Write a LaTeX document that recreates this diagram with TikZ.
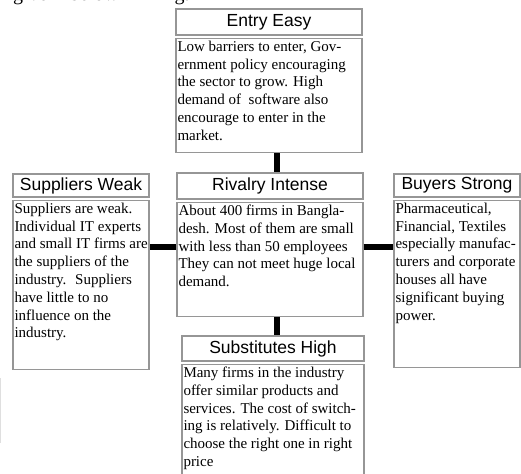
\documentclass[tikz,border=0pt]{standalone}
\usepackage{fontspec}
\setmainfont{Liberation Serif}
\setsansfont{Liberation Sans}
\usetikzlibrary{positioning}
\definecolor{frame}{RGB}{150,150,150}

\begin{document}
\begin{tikzpicture}[x=1pt, y=-1pt,
    head/.style={draw=frame, line width=1.4pt, inner sep=0pt, minimum height=25pt,
                 font=\sffamily\fontsize{17.5}{20}\selectfont},
    body/.style={draw=frame, line width=1.4pt, inner sep=0pt},
    txt/.style={anchor=north west, inner xsep=2pt, inner ysep=3pt, align=left,
                font=\fontsize{15}{17.8}\selectfont},
    link/.style={draw=black, line width=5.5pt}]
  \useasboundingbox (0,0) rectangle (521,473);
  % running text of the page, cut at the top
  \node[anchor=base west, inner sep=0pt, font=\fontsize{20}{22}\selectfont] (cap) at (13,1)
    {\makebox[214pt][s]{given below in Fig. 2}};
  \draw[gray!25, line width=1pt] (0.5,378) -- (0.5,443);

  % centre column
  \node[head, minimum width=186pt, minimum height=26pt] (eh) at (269,22) {Entry Easy};
  \node[body, minimum width=186pt, minimum height=114pt, below=2pt of eh] (eb) {};
  \node[txt] (et) at (eb.north west) {Low barriers to enter, Gov-\\ernment policy encouraging\\the sector to grow. High\\demand of \ software also\\encourage to enter in the\\market.};

  \node[head, minimum width=186pt, minimum height=26pt] (rh) at (270,186) {Rivalry Intense};
  \node[body, minimum width=186pt, minimum height=114pt, below=2pt of rh] (rb) {};
  \node[txt] (rt) at (rb.north west) {About 400 firms in Bangla-\\desh. Most of them are small\\with less than 50 employees\\They can not meet huge local\\demand.};

  \node[head, minimum width=182pt] (sh) at (273,348.5) {Substitutes High};
  \node[body, minimum width=182pt, minimum height=127pt, below=2pt of sh] (ub) {};
  \node[txt] (ut) at (ub.north west) {Many firms in the industry\\offer similar products and\\services. The cost of switch-\\ing is relatively. Difficult to\\choose the right one in right\\price};

  % side boxes
  \node[head, minimum width=136pt, minimum height=23pt] (ph) at (81,185.5) {Suppliers Weak};
  \node[body, minimum width=136pt, minimum height=169pt, below=2pt of ph] (pb) {};
  \node[txt] (pt) at (pb.north west) {Suppliers are weak.\\Individual IT experts\\and small IT firms are\\the suppliers of the\\industry. \ Suppliers\\have little to no\\influence on the\\industry.};

  \node[head, minimum width=126pt, minimum height=23pt] (bh) at (457,185.5) {Buyers Strong};
  \node[body, minimum width=126pt, minimum height=167pt, below=2pt of bh] (bb) {};
  \node[txt] (bt) at (bb.north west) {Pharmaceutical,\\Financial, Textiles\\especially manufac-\\turers and corporate\\houses all have\\significant buying\\power.};

  % links between the boxes
  \coordinate (ly) at (0,247);
  \draw[link] ([xshift=8pt]eb.south) -- ([xshift=7pt]rh.north);
  \draw[link] ([xshift=7pt]rb.south) -- ([xshift=4pt]sh.north);
  \draw[link] (pb.east |- ly) -- (rb.west |- ly);
  \draw[link] (rb.east |- ly) -- (bb.west |- ly);
\end{tikzpicture}
\end{document}
